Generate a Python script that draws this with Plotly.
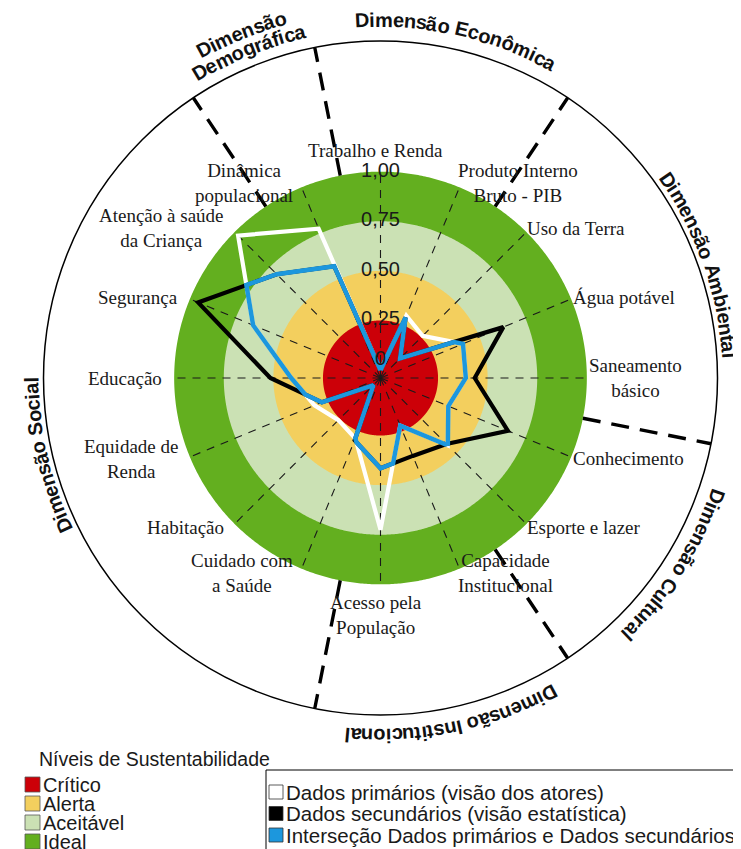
import numpy as np
import plotly.graph_objects as go

# ---------------- data ----------------
categories = ["Trabalho e Renda", "Produto Interno<br>Bruto - PIB", "Uso da Terra", "Água potável",
              "Saneamento<br>básico", "Conhecimento", "Esporte e lazer", "Capacidade<br>Institucional",
              "Acesso pela<br>População", "Cuidado com<br>a Saúde", "Habitação", "Equidade de<br>Renda",
              "Educação", "Segurança", "Atenção à saúde<br>da Criança", "Dinâmica<br>populacional"]
primarios = [0.00, 0.30, 0.26, 0.41, 0.39, 0.33, 0.44, 0.22, 0.725, 0.29, 0.26, 0.32, 0.41, 0.655, 0.975, 0.775]
secundarios = [0.00, 0.29, 0.10, 0.63, 0.435, 0.655, 0.43, 0.385, 0.415, 0.30, 0.01, 0.28, 0.515, 0.955, 0.70, 0.57]

level_names = ["Crítico", "Alerta", "Aceitável", "Ideal"]
level_edges = [0.25, 0.50, 0.75, 1.00]
level_colors = ["#CC0008", "#F3CF5E", "#CBE1B4", "#63AF1F"]

tick_vals = [0, 0.25, 0.50, 0.75, 1.00]
tick_text = ["0", "0,25", "0,50", "0,75", "1,00"]

# dimension labels: (text lines, centre angle deg, radius px)
dimensions = [(["Dimensão Econômica"], 12.5, [358]),
              (["Dimensão Ambiental"], 70.5, [349]),
              (["Dimensão Cultural"], 122.5, [356]),
              (["Dimensão Institucional"], 168.2, [358]),
              (["Dimensão Social"], 257.0, [349]),
              (["Demográfica", "Dimensão"], 338.0, [355, 373])]
dim_bounds = [15.5, 1.5, 4.5, 6.5, 8.5, 14.5]   # in category steps

series_names = ["Dados primários (visão dos atores)", "Dados secundários (visão estatística)",
                "Interseção Dados primários e Dados secundários"]
series_colors = ["#FFFFFF", "#000000", "#1C97DD"]

# ---------------- geometry (reference pixel coords) ----------------
PAGE_OFF = 8                 # default body margin of the html page
W, H = 741 - PAGE_OFF, 849 - PAGE_OFF
CX, CY = 380.5, 378.0
R_OUT = 337.0
PX_PER_UNIT = 198.4
R_MIN = -0.04
R_MAX = R_MIN + R_OUT / PX_PER_UNIT
N = len(categories)
STEP = 360.0 / N
thetas = [i * STEP for i in range(N)]


def to_xy(r, th):
    rho = r - R_MIN
    t = np.radians(th)
    return np.array([rho * np.sin(t), rho * np.cos(t)])


def from_xy(p):
    rho = float(np.hypot(p[0], p[1]))
    th = float(np.degrees(np.arctan2(p[0], p[1])))
    return rho + R_MIN, th


def intersection_polygon(a, b):
    rs, ts = [], []
    for i in range(N):
        j = (i + 1) % N
        ti, tj = thetas[i], thetas[i] + STEP
        rs.append(min(a[i], b[i]))
        ts.append(ti)
        di, dj = a[i] - b[i], a[j] - b[j]
        if di * dj < 0:
            p1, p2 = to_xy(a[i], ti), to_xy(a[j], tj)
            q1, q2 = to_xy(b[i], ti), to_xy(b[j], tj)
            d1, d2 = p2 - p1, q2 - q1
            M = np.array([[d1[0], -d2[0]], [d1[1], -d2[1]]])
            t, s = np.linalg.solve(M, q1 - p1)
            r, th = from_xy(p1 + t * d1)
            rs.append(r)
            ts.append(th)
    rs.append(rs[0])
    ts.append(ts[0])
    return rs, ts


def px_to_paper(x, y):
    return (x - PAGE_OFF) / W, 1 - (y - PAGE_OFF) / H


fig = go.Figure()

# level bands
circ = np.linspace(0, 360, 721)
for edge, col, name in sorted(zip(level_edges, level_colors, level_names), reverse=True):
    fig.add_trace(go.Scatterpolar(r=[edge] * len(circ), theta=circ, mode="lines", fill="toself",
                                  fillcolor=col, line=dict(width=0, color=col), name=name,
                                  hoverinfo="skip", showlegend=False))

# spokes
sr, st = [], []
for th in thetas:
    sr += [R_MIN, 1.0, None]
    st += [th, th, None]
fig.add_trace(go.Scatterpolar(r=sr, theta=st, mode="lines", line=dict(color="#1a1a1a", width=1.1, dash="8px,7px"),
                              hoverinfo="skip", showlegend=False))

# dimension dividers
dr, dt = [], []
for b in dim_bounds:
    dr += [1.0, R_MAX, None]
    dt += [b * STEP, b * STEP, None]
fig.add_trace(go.Scatterpolar(r=dr, theta=dt, mode="lines", line=dict(color="#000000", width=3.4, dash="18px,11px"),
                              hoverinfo="skip", showlegend=False))

# data series
fig.add_trace(go.Scatterpolar(r=primarios + [primarios[0]], theta=thetas + [thetas[0]], mode="lines",
                              line=dict(color=series_colors[0], width=4.2), name=series_names[0], showlegend=False))
fig.add_trace(go.Scatterpolar(r=secundarios + [secundarios[0]], theta=thetas + [thetas[0]], mode="lines",
                              line=dict(color=series_colors[1], width=4.2), name=series_names[1], showlegend=False))
ir, it = intersection_polygon(primarios, secundarios)
fig.add_trace(go.Scatterpolar(r=ir, theta=it, mode="lines",
                              line=dict(color=series_colors[2], width=4.5), name=series_names[2], showlegend=False))

# radial tick labels
fig.add_trace(go.Scatterpolar(r=tick_vals, theta=[0] * len(tick_vals), mode="text", text=tick_text,
                              textposition=["top center"] + ["middle center"] * (len(tick_vals) - 1),
                              textfont=dict(family="Liberation Sans", size=20, color="#1a1a1a"),
                              hoverinfo="skip", showlegend=False))

annotations = []
# category labels
LAB_CX = CX - 5
LAB_D = 211.5
for lab, th in zip(categories, thetas):
    t = np.radians(th)
    d = LAB_D + (4 if th == 0 else 0)
    x = LAB_CX + d * np.sin(t)
    y = CY - d * np.cos(t)
    if th == 0:
        xa, ya = "center", "bottom"
    elif th == 180:
        xa, ya = "center", "top"
    elif th < 180:
        xa, ya = "left", "middle"
    else:
        xa, ya = "right", "middle"
    px, py = px_to_paper(x, y)
    annotations.append(dict(x=px, y=py, xref="paper", yref="paper", text=lab, showarrow=False,
                            xanchor=xa, yanchor=ya, align="center",
                            font=dict(family="Liberation Serif", size=19, color="#1a1a1a")))

# curved dimension labels (one rotated glyph each)
BOLD_W = {' ': 278, 'D': 722, 'i': 278, 'm': 889, 'e': 556, 'n': 611, 's': 556, 'ã': 556, 'o': 611,
          'E': 667, 'c': 556, 'ô': 611, 'a': 556, 'A': 722, 'b': 611, 't': 333, 'l': 278, 'C': 722,
          'u': 611, 'r': 389, 'I': 278, 'S': 667, 'g': 611, 'f': 333, 'á': 556}
DIM_SIZE = 20
for lines, cdeg, radii in dimensions:
    for text, rad in zip(lines, radii):
        widths = [BOLD_W.get(c, 600) / 1000 * DIM_SIZE for c in text]
        total = sum(widths)
        start = np.radians(cdeg) - total / rad / 2
        acc = 0.0
        for ch, w in zip(text, widths):
            ang = start + (acc + w / 2) / rad
            acc += w
            if ch == " ":
                continue
            x = CX + rad * np.sin(ang)
            y = CY - rad * np.cos(ang)
            deg = np.degrees(ang)
            ta = ((deg + 180) % 360) - 180
            px, py = px_to_paper(x, y)
            annotations.append(dict(x=px, y=py, xref="paper", yref="paper", text=ch, showarrow=False,
                                    textangle=ta, xanchor="center", yanchor="middle",
                                    font=dict(family="Liberation Sans", size=DIM_SIZE, color="#111111",
                                              weight="bold")))

# legend: levels
shapes = []
px, py = px_to_paper(37, 759)
annotations.append(dict(x=px, y=py, xref="paper", yref="paper", text="Níveis de Sustentabilidade",
                        showarrow=False, xanchor="left", yanchor="middle",
                        font=dict(family="Liberation Sans", size=19.5, color="#1a1a1a")))
for k, (name, col) in enumerate(zip(level_names, level_colors)):
    y0 = 777 + 19 * k
    x0p, y0p = px_to_paper(25, y0)
    x1p, y1p = px_to_paper(40, y0 + 15)
    shapes.append(dict(type="rect", xref="paper", yref="paper", x0=x0p, x1=x1p, y0=y1p, y1=y0p,
                       fillcolor=col, line=dict(color="#555555", width=0.8)))
    px, py = px_to_paper(41, y0 + 8)
    annotations.append(dict(x=px, y=py, xref="paper", yref="paper", text=name, showarrow=False,
                            xanchor="left", yanchor="middle",
                            font=dict(family="Liberation Sans", size=20, color="#1a1a1a")))

# legend: series
bx0, by0 = px_to_paper(266, 770)
bx1, by1 = px_to_paper(760, 870)
shapes.append(dict(type="rect", xref="paper", yref="paper", x0=bx0, x1=bx1, y0=by1, y1=by0,
                   fillcolor="rgba(0,0,0,0)", line=dict(color="#000000", width=1)))
for k, (name, col) in enumerate(zip(series_names, series_colors)):
    yc = 792 + 21.5 * k
    x0p, y0p = px_to_paper(269, yc - 7)
    x1p, y1p = px_to_paper(283, yc + 7)
    shapes.append(dict(type="rect", xref="paper", yref="paper", x0=x0p, x1=x1p, y0=y1p, y1=y0p,
                       fillcolor=col, line=dict(color="#333333", width=0.8)))
    px, py = px_to_paper(284, yc)
    annotations.append(dict(x=px, y=py, xref="paper", yref="paper", text=name, showarrow=False,
                            xanchor="left", yanchor="middle",
                            font=dict(family="Liberation Sans", size=20.5, color="#1a1a1a")))

dx0, dx1 = px_to_paper(CX - R_OUT, 0)[0], px_to_paper(CX + R_OUT, 0)[0]
dy0, dy1 = px_to_paper(0, CY + R_OUT)[1], px_to_paper(0, CY - R_OUT)[1]

fig.update_layout(
    width=W, height=H, margin=dict(l=0, r=0, t=0, b=0),
    paper_bgcolor="white", plot_bgcolor="white", showlegend=False,
    polar=dict(
        domain=dict(x=[dx0, dx1], y=[dy0, dy1]),
        bgcolor="rgba(0,0,0,0)",
        radialaxis=dict(range=[R_MIN, R_MAX], visible=False, showgrid=False),
        angularaxis=dict(rotation=90, direction="clockwise", thetaunit="degrees", showgrid=False,
                         showticklabels=False, ticks="", showline=True, linecolor="#000000", linewidth=1.5),
    ),
    annotations=annotations, shapes=shapes,
)

fig.write_html("out.html")
